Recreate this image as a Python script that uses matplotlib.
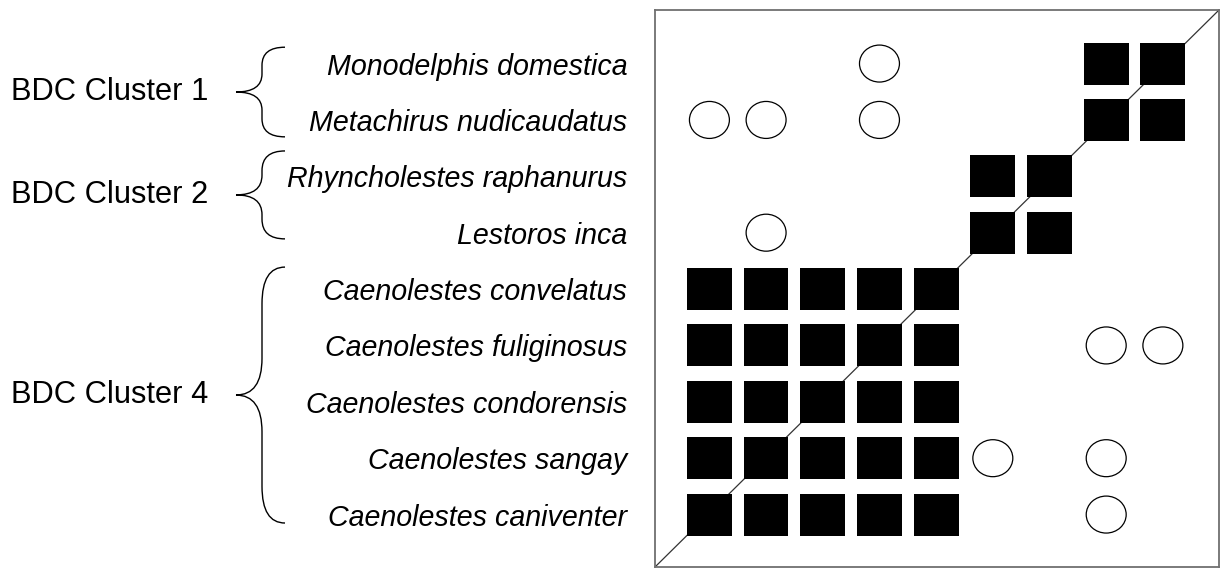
import matplotlib
matplotlib.use("Agg")
import matplotlib.pyplot as plt
from matplotlib.patches import Rectangle, Ellipse, PathPatch
from matplotlib.path import Path
from matplotlib import transforms

plt.rcParams['font.family'] = ['Liberation Sans', 'DejaVu Sans']

# ---------------- data ----------------
species = [
    "Monodelphis domestica",
    "Metachirus nudicaudatus",
    "Rhyncholestes raphanurus",
    "Lestoros inca",
    "Caenolestes convelatus",
    "Caenolestes fuliginosus",
    "Caenolestes condorensis",
    "Caenolestes sangay",
    "Caenolestes caniventer",
]
# cell codes: 2 = filled square, 1 = open circle, 0 = empty
# rows top->bottom as species; columns left->right = species reversed
row_monodelphis   = [0, 0, 0, 1, 0, 0, 0, 2, 2]
row_metachirus    = [1, 1, 0, 1, 0, 0, 0, 2, 2]
row_rhyncholestes = [0, 0, 0, 0, 0, 2, 2, 0, 0]
row_lestoros      = [0, 1, 0, 0, 0, 2, 2, 0, 0]
row_convelatus    = [2, 2, 2, 2, 2, 0, 0, 0, 0]
row_fuliginosus   = [2, 2, 2, 2, 2, 0, 0, 1, 1]
row_condorensis   = [2, 2, 2, 2, 2, 0, 0, 0, 0]
row_sangay        = [2, 2, 2, 2, 2, 1, 0, 1, 0]
row_caniventer    = [2, 2, 2, 2, 2, 0, 0, 1, 0]
matrix = [row_monodelphis, row_metachirus, row_rhyncholestes, row_lestoros,
          row_convelatus, row_fuliginosus, row_condorensis, row_sangay,
          row_caniventer]

cluster_labels = ["BDC Cluster 1", "BDC Cluster 2", "BDC Cluster 4"]
cluster_first = [0, 2, 4]   # first species index of each cluster
cluster_last = [1, 3, 8]    # last species index of each cluster

# ---------------- figure ----------------
W, H = 1222, 569
fig = plt.figure(figsize=(W / 100, H / 100), dpi=100)
ax = fig.add_axes([655 / W, 2 / H, 564 / W, 557 / H])

n = len(species)
ax.set_xlim(-0.96, n - 1 + 0.99)
ax.set_ylim(-0.93, n - 1 + 0.95)

# diagonal line
ax.plot([0, 1], [0, 1], transform=ax.transAxes, color='#333333', lw=0.9, zorder=1)

sq_w, sq_h = 0.79, 0.745
el_w, el_h = 0.705, 0.656
for i, row in enumerate(matrix):
    y = n - 1 - i
    for j, code in enumerate(row):
        if code == 2:
            ax.add_patch(Rectangle((j - sq_w / 2, y - sq_h / 2), sq_w, sq_h,
                                   facecolor='black', edgecolor='none', zorder=2))
        elif code == 1:
            ax.add_patch(Ellipse((j, y), el_w, el_h, facecolor='white',
                                 edgecolor='black', lw=0.9, zorder=2))

for s in ax.spines.values():
    s.set_color('#707070')
    s.set_linewidth(1.3)
ax.set_xticks([])
ax.set_yticks([n - 1 - i for i in range(n)])
ax.set_yticklabels(species, fontsize=20.6, fontstyle='italic')
ax.tick_params(axis='y', length=0, pad=20)

# ---------------- braces & cluster labels ----------------
bt = transforms.blended_transform_factory(fig.transFigure, ax.transData)
x_tip, x_body, x_end = 236 / W, 262 / W, 285 / W
extend_top = [0.29, 0.45, 0.39]
extend_bot = [0.30, 0.11, 0.15]
radius = [0.32, 0.35, 0.65]

for k, lab in enumerate(cluster_labels):
    yt = n - 1 - cluster_first[k] + extend_top[k]
    yb = n - 1 - cluster_last[k] - extend_bot[k]
    ym = (yt + yb) / 2
    r = radius[k]
    verts = [(x_end, yt), (x_body, yt), (x_body, yt - r),
             (x_body, ym + r),
             (x_body, ym), (x_tip, ym),
             (x_body, ym), (x_body, ym - r),
             (x_body, yb + r),
             (x_body, yb), (x_end, yb)]
    codes = [Path.MOVETO, Path.CURVE3, Path.CURVE3,
             Path.LINETO,
             Path.CURVE3, Path.CURVE3,
             Path.CURVE3, Path.CURVE3,
             Path.LINETO,
             Path.CURVE3, Path.CURVE3]
    ax.add_patch(PathPatch(Path(verts, codes), transform=bt, facecolor='none',
                           edgecolor='black', lw=1.0, clip_on=False))
    ax.text(11 / W, ym, lab, transform=bt, ha='left', va='center',
            fontsize=22.2, clip_on=False)

fig.savefig("out.png", dpi=100)
